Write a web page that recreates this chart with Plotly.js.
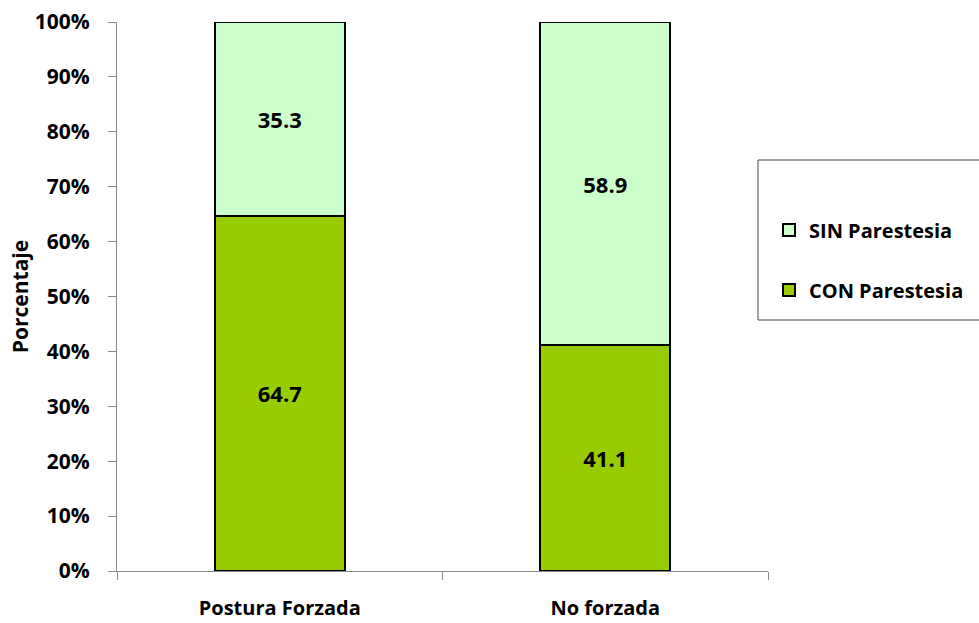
<!DOCTYPE html>
<html>
<head>
<meta charset="utf-8">
<script src="https://cdn.plot.ly/plotly-3.0.1.min.js"></script>
<style>html,body{margin:0;padding:0;background:#fff;}#chart{width:979px;height:623px;}</style>
</head>
<body>
<div id="chart"></div>
<script>
const categories = ["Postura Forzada", "No forzada"];
const conParestesia = [64.7, 41.1];
const sinParestesia = [35.3, 58.9];
const seriesNames = ["CON Parestesia", "SIN Parestesia"];
const yTickVals = [0,10,20,30,40,50,60,70,80,90,100];
const yTickText = yTickVals.map(v => v + "%");

const FONT = "'Open Sans', sans-serif";
const W = 979, H = 623, L = 117, R = 211, T = 22, B = 52;
const pw = W - L - R, ph = H - T - B;
const px = x => (x - L) / pw;
const py = y => (H - B - y) / ph;
const bold = (s) => ({family:FONT, size:s, color:"#000", weight:"bold"});

const traces = [
  {type:"bar", name:seriesNames[0], x:categories, y:conParestesia,
   text:conParestesia.map(v=>v.toFixed(1)), textposition:"inside", insidetextanchor:"middle",
   textfont:bold(22), legendrank:2,
   marker:{color:"#99CC00", line:{color:"#000", width:2}}, width:0.4, legendgroup:"a", hoverinfo:"none"},
  {type:"bar", name:seriesNames[1], x:categories, y:sinParestesia,
   text:sinParestesia.map(v=>v.toFixed(1)), textposition:"inside", insidetextanchor:"middle",
   textfont:bold(22), legendrank:1,
   marker:{color:"#CCFFCC", line:{color:"#000", width:2}}, width:0.4, legendgroup:"b", hoverinfo:"none"}
];

const layout = {
  width:W, height:H, barmode:"stack",
  margin:{l:L, r:R, t:T, b:B, pad:0, autoexpand:false},
  paper_bgcolor:"#fff", plot_bgcolor:"#fff",
  font:bold(18),
  showlegend:true,
  legend:{x:px(769), y:py(260), xanchor:"left", yanchor:"middle",
    traceorder:"grouped", tracegroupgap:31,
    font:bold(20),
    bgcolor:"rgba(0,0,0,0)", borderwidth:0},
  shapes:[{type:"rect", xref:"paper", yref:"paper", x0:px(758), x1:px(990), y0:py(320), y1:py(160),
    line:{color:"#444", width:1}, fillcolor:"rgba(0,0,0,0)"}],
  xaxis:{type:"category", range:[-0.5,1.5], showline:true, linecolor:"#888", linewidth:1,
    ticks:"outside", tickson:"boundaries", ticklen:8, tickcolor:"#888", showgrid:false,
    ticklabelstandoff:19, automargin:false,
    tickfont:bold(20), zeroline:false},
  yaxis:{range:[0,100], tickvals:yTickVals, ticktext:yTickText, showline:true, linecolor:"#888",
    linewidth:1, ticks:"outside", ticklen:8, tickcolor:"#888", showgrid:false, zeroline:false,
    ticklabelstandoff:14, automargin:false,
    tickfont:bold(21),
    title:{text:"Porcentaje", standoff:0, font:bold(21)}}
};

Plotly.newPlot("chart", traces, layout, {displayModeBar:false, staticPlot:true});
</script>
</body>
</html>
